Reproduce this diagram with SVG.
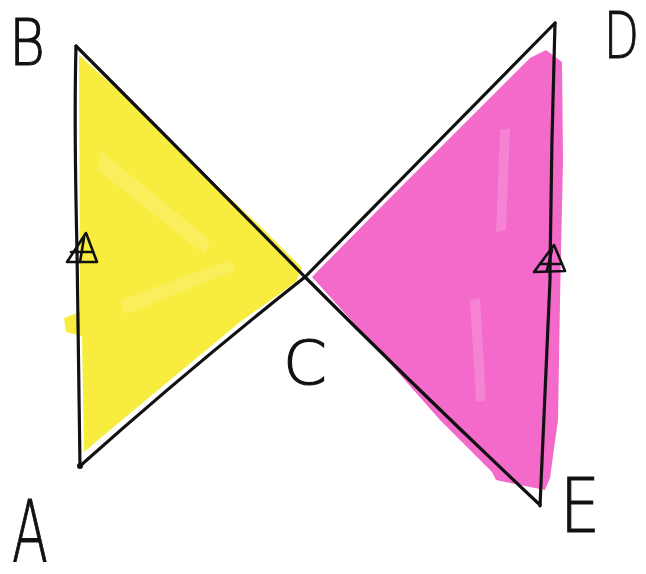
<svg xmlns="http://www.w3.org/2000/svg" width="646" height="574" viewBox="0 0 646 574">
<style>
.ink{fill:none;stroke:#111;stroke-width:3.2;stroke-linecap:round;stroke-linejoin:round}
.tick{fill:none;stroke:#111;stroke-width:2.6;stroke-linecap:round;stroke-linejoin:round}
.lbl{font-family:"DejaVu Sans","Liberation Sans",sans-serif;fill:#111;stroke:#111;stroke-width:1.1;font-weight:200}
.yel{fill:#f8ec3e}
.pnk{fill:#f36acb}
.hl{fill:#ffffff;opacity:0.16}
</style>
<rect width="646" height="574" fill="#ffffff"/>
<g id="fills">
<path class="yel" d="M79,55 L120,92 L200,170 L262,228 L302,268 L296,282 L240,322 L170,380 L110,430 L84,452 L82,336 L66,332 L64,318 L80,312 Z"/>
<path class="hl" d="M100,150 L210,240 L205,255 L98,170 Z"/>
<path class="hl" d="M120,300 L230,260 L235,270 L125,315 Z"/>
<path class="pnk" d="M312,277 L380,208 L460,128 L530,58 L546,50 L562,62 L563,160 L560,300 L558,420 L550,478 L545,490 L520,485 L496,480 L492,472 L440,420 L380,352 Z"/>
<path class="hl" d="M500,130 L510,128 L506,230 L496,232 Z"/>
<path class="hl" d="M470,300 L480,298 L486,400 L476,402 Z"/>
</g>
<g id="triangle-ABC">
<path class="ink" d="M76,46 Q74,120 77,250 Q79,380 80,466"/>
<path class="ink" d="M76,46 Q190,160 305,277"/>
<path class="ink" d="M80,466 Q190,368 305,277"/>
<circle cx="80" cy="466" r="3" fill="#111"/>
</g>
<g id="triangle-CDE">
<path class="ink" d="M305,277 Q430,150 555,23"/>
<path class="ink" d="M305,277 Q420,392 540,505"/>
<path class="ink" d="M555,23 Q551,150 550,280 Q545,400 540,506"/>
</g>
<g id="tick-AB">
<path class="tick" d="M86,233 L67,262 L97,262 Z"/>
<path class="tick" d="M71,252 L93,252"/>
<path class="tick" d="M84,238 L80,262"/>
</g>
<g id="tick-DE">
<path class="tick" d="M554,245 L534,272 L565,271 Z"/>
<path class="tick" d="M540,264 L560,264"/>
<path class="tick" d="M552,250 L547,270"/>
</g>
<g id="labels">
<text class="lbl" x="9" y="65" font-size="64" textLength="36" lengthAdjust="spacingAndGlyphs">B</text>
<text class="lbl" x="604" y="58" font-size="64" textLength="35" lengthAdjust="spacingAndGlyphs">D</text>
<text class="lbl" x="283" y="384" font-size="60" textLength="44" lengthAdjust="spacingAndGlyphs">C</text>
<text class="lbl" x="12" y="562" font-size="86" textLength="36" lengthAdjust="spacingAndGlyphs">A</text>
<text class="lbl" x="560" y="532" font-size="75" textLength="40" lengthAdjust="spacingAndGlyphs">E</text>
</g>
</svg>
